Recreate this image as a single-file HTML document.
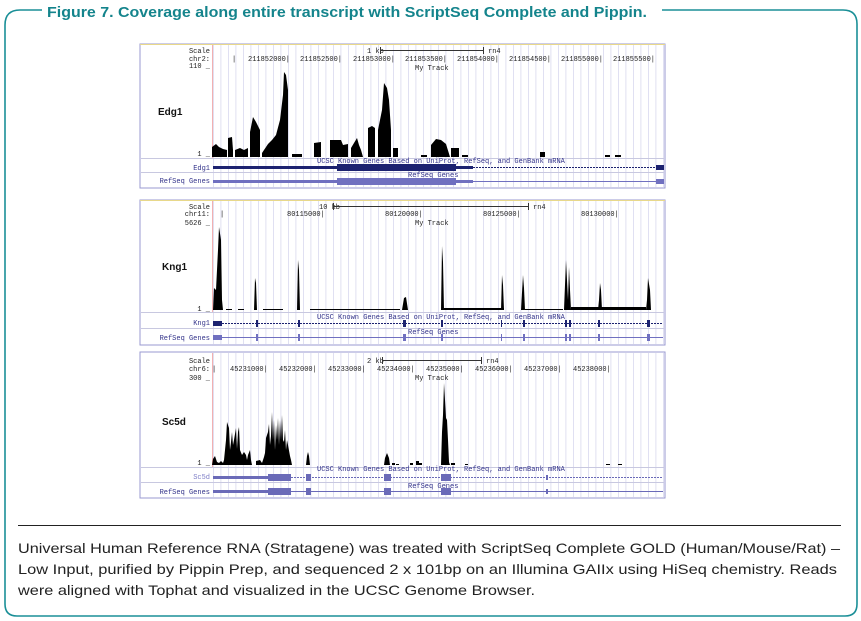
<!DOCTYPE html>
<html><head><meta charset="utf-8"><style>
html,body{margin:0;padding:0;background:#fff;}
svg{display:block;}
.m{font-family:"Liberation Mono",monospace;font-size:7px;fill:#222;}
.mb{font-family:"Liberation Mono",monospace;font-size:7px;fill:#33338a;}
.lab{font-family:"Liberation Sans",sans-serif;font-size:10px;font-weight:bold;fill:#111;}
.cap{font-family:"Liberation Sans",sans-serif;font-size:14px;fill:#222;}
</style></head><body>
<svg width="861" height="621" viewBox="0 0 861 621" xmlns="http://www.w3.org/2000/svg">
<defs>
<pattern id="g" x="213" y="0" width="7.5" height="10" patternUnits="userSpaceOnUse">
<rect x="0" y="0" width="0.8" height="10" fill="#d8d8ee"/></pattern>
</defs>
<!-- frame -->
<path d="M42,10 L20,10 Q5,10 5,25 L5,604 Q5,616 17,616 L845,616 Q857,616 857,604 L857,24 Q857,10 843,10 L662,10" fill="none" stroke="#1a8f97" stroke-width="1.6"/>
<text x="47" y="17" font-family="Liberation Sans,sans-serif" font-size="14.5" font-weight="bold" fill="#14848c" textLength="600" lengthAdjust="spacingAndGlyphs">Figure 7. Coverage along entire transcript with ScriptSeq Complete and Pippin.</text>

<!-- PANEL 1 -->
<g>
<rect x="140" y="44" width="525" height="144" fill="#fff" stroke="#9a9ad0" stroke-width="1"/>
<line x1="140" y1="44.5" x2="665" y2="44.5" stroke="#e8d88a"/>
<rect x="213" y="45" width="451" height="142" fill="url(#g)"/>
<line x1="212.5" y1="45" x2="212.5" y2="158" stroke="#f2b0b0"/>
<line x1="141" y1="158.5" x2="664" y2="158.5" stroke="#c8c8e0"/>
<line x1="141" y1="172.5" x2="664" y2="172.5" stroke="#c8c8e0"/>
<text class="m" x="210" y="53" text-anchor="end">Scale</text>
<text class="m" x="210" y="61" text-anchor="end">chr2:</text>
<text class="m" x="210" y="68" text-anchor="end">110 _</text>
<text class="m" x="210" y="156" text-anchor="end">1 _</text>
<text class="m" x="367" y="53">1 kb</text>
<line x1="380" y1="50.5" x2="483" y2="50.5" stroke="#333"/><line x1="380.5" y1="47" x2="380.5" y2="54" stroke="#333"/><line x1="483.5" y1="47" x2="483.5" y2="54" stroke="#333"/>
<text class="m" x="488" y="53">rn4</text>
<text class="m" x="232" y="61">|</text>
<text class="m" x="248" y="61">211852000|</text>
<text class="m" x="300" y="61">211852500|</text>
<text class="m" x="353" y="61">211853000|</text>
<text class="m" x="405" y="61">211853500|</text>
<text class="m" x="457" y="61">211854000|</text>
<text class="m" x="509" y="61">211854500|</text>
<text class="m" x="561" y="61">211855000|</text>
<text class="m" x="613" y="61">211855500|</text>
<text class="m" x="415" y="70">My Track</text>
<text class="lab" x="158" y="115">Edg1</text>
<g fill="#000">
<polygon points="212,157 212,147 216,144 219,147 223,149 227,150 227,157"/>
<polygon points="228,157 228,138 232,137 233,150 233,157"/>
<polygon points="235,157 235,150 240,148 244,150 248,148 248,157"/>
<polygon points="250,157 250,132 253,117 256,122 260,130 260,157"/>
<polygon points="262,157 262,153 268,144 272,140 276,135 280,120 283,95 284,72 286,75 288,90 288,157"/>
<polygon points="292,157 292,154 302,154 302,157"/>
<polygon points="314,157 314,143 321,142 321,157"/>
<polygon points="330,157 330,140 341,140 343,145 348,144 348,157"/>
<polygon points="351,157 351,148 357,138 359,145 361,150 363,157"/>
<polygon points="368,157 368,128 372,126 375,128 375,157"/>
<polygon points="378,157 378,130 382,110 384,83 387,88 389,100 391,130 391,157"/>
<polygon points="393,157 393,148 398,148 398,157"/>
<rect x="421" y="155" width="6" height="2"/>
<polygon points="431,157 431,145 436,139 441,140 446,144 450,157"/>
<polygon points="451,157 451,148 459,148 459,157"/>
<rect x="462" y="155" width="6" height="2"/>
<rect x="540" y="152" width="5" height="5"/>
<rect x="605" y="155" width="5" height="2"/><rect x="615" y="155" width="6" height="2"/>
</g>
<text class="mb" x="317" y="163">UCSC Known Genes Based on UniProt, RefSeq, and GenBank mRNA</text>
<text class="mb" x="210" y="170" text-anchor="end">Edg1</text>
<rect x="213" y="166" width="260" height="3" fill="#1c2270"/>
<rect x="337" y="164" width="119" height="7" fill="#1c2270"/>
<line x1="473" y1="167.5" x2="660" y2="167.5" stroke="#1c2270" stroke-dasharray="2,1"/>
<rect x="656" y="165" width="8" height="5" fill="#1c2270"/>
<text class="mb" x="210" y="183" text-anchor="end">RefSeq Genes</text>
<text class="mb" x="408" y="177">RefSeq Genes</text>
<rect x="213" y="180" width="260" height="3" fill="#7070c0"/>
<rect x="337" y="178" width="119" height="7" fill="#7070c0"/>
<line x1="473" y1="181.5" x2="660" y2="181.5" stroke="#7070c0"/>
<rect x="656" y="179" width="8" height="5" fill="#7070c0"/>
</g>

<!-- PANEL 2 -->
<g>
<rect x="140" y="200" width="525" height="145" fill="#fff" stroke="#9a9ad0"/>
<line x1="140" y1="200.5" x2="665" y2="200.5" stroke="#e8d88a"/>
<rect x="213" y="201" width="451" height="143" fill="url(#g)"/>
<line x1="212.5" y1="201" x2="212.5" y2="312" stroke="#f2b0b0"/>
<line x1="141" y1="312.5" x2="664" y2="312.5" stroke="#c8c8e0"/>
<line x1="141" y1="328.5" x2="664" y2="328.5" stroke="#c8c8e0"/>
<text class="m" x="210" y="209" text-anchor="end">Scale</text>
<text class="m" x="210" y="216" text-anchor="end">chr11:</text>
<text class="m" x="210" y="225" text-anchor="end">5626 _</text>
<text class="m" x="210" y="311" text-anchor="end">1 _</text>
<text class="m" x="319" y="209">10 kb</text>
<line x1="333" y1="206.5" x2="528" y2="206.5" stroke="#333"/><line x1="333.5" y1="203" x2="333.5" y2="210" stroke="#333"/><line x1="528.5" y1="203" x2="528.5" y2="210" stroke="#333"/>
<text class="m" x="533" y="209">rn4</text>
<text class="m" x="220" y="216">|</text>
<text class="m" x="287" y="216">80115000|</text>
<text class="m" x="385" y="216">80120000|</text>
<text class="m" x="483" y="216">80125000|</text>
<text class="m" x="581" y="216">80130000|</text>
<text class="m" x="415" y="225">My Track</text>
<text class="lab" x="162" y="270">Kng1</text>
<g fill="#000">
<polygon points="213,310 214,288 216,290 218,250 219,227 221,240 222,300 223,310"/>
<polygon points="254,310 255,278 256,283 257,310"/>
<polygon points="297,310 298,260 299,270 300,310"/>
<polygon points="402,310 404,298 406,297 408,310"/>
<polygon points="441,310 442,246 443,262 444,310"/>
<polygon points="501,310 502,275 503,285 504,310"/>
<polygon points="521,310 523,275 524,288 525,310"/>
<polygon points="564,310 566,260 567,280 568,300 569,267 570,290 571,310"/>
<polygon points="598,310 599,300 600,283 601,290 602,310"/>
<polygon points="646,310 647,300 648,278 650,290 651,310"/>
<rect x="444" y="308" width="60" height="2"/>
<rect x="571" y="307" width="75" height="3"/>
<rect x="226" y="309" width="6" height="1"/><rect x="238" y="309" width="6" height="1"/><rect x="263" y="309" width="20" height="1"/><rect x="310" y="309" width="90" height="1"/><rect x="525" y="309" width="38" height="1"/>
</g>
<text class="mb" x="317" y="319">UCSC Known Genes Based on UniProt, RefSeq, and GenBank mRNA</text>
<text class="mb" x="210" y="325" text-anchor="end">Kng1</text>
<line x1="213" y1="323.5" x2="663" y2="323.5" stroke="#1c2270" stroke-dasharray="2,1"/>
<g fill="#1c2270">
<rect x="213" y="321" width="9" height="5"/><rect x="256" y="320" width="2" height="7"/><rect x="298" y="320" width="2" height="7"/><rect x="403" y="320" width="3" height="7"/><rect x="441" y="320" width="2" height="7"/><rect x="501" y="320" width="1" height="7"/><rect x="523" y="320" width="2" height="7"/><rect x="565" y="320" width="2" height="7"/><rect x="569" y="320" width="2" height="7"/><rect x="598" y="320" width="2" height="7"/><rect x="647" y="320" width="3" height="7"/></g>
<text class="mb" x="210" y="340" text-anchor="end">RefSeq Genes</text>
<text class="mb" x="408" y="334">RefSeq Genes</text>
<line x1="213" y1="337.5" x2="663" y2="337.5" stroke="#7070c0"/>
<g fill="#7070c0">
<rect x="213" y="335" width="9" height="5"/><rect x="256" y="334" width="2" height="7"/><rect x="298" y="334" width="2" height="7"/><rect x="403" y="334" width="3" height="7"/><rect x="441" y="334" width="2" height="7"/><rect x="501" y="334" width="1" height="7"/><rect x="523" y="334" width="2" height="7"/><rect x="565" y="334" width="2" height="7"/><rect x="569" y="334" width="2" height="7"/><rect x="598" y="334" width="2" height="7"/><rect x="647" y="334" width="3" height="7"/></g>
</g>

<!-- PANEL 3 -->
<g>
<rect x="140" y="352" width="525" height="146" fill="#fff" stroke="#9a9ad0"/>
<rect x="213" y="353" width="451" height="144" fill="url(#g)"/>
<line x1="212.5" y1="353" x2="212.5" y2="467" stroke="#f2b0b0"/>
<line x1="141" y1="467.5" x2="664" y2="467.5" stroke="#c8c8e0"/>
<line x1="141" y1="482.5" x2="664" y2="482.5" stroke="#c8c8e0"/>
<text class="m" x="210" y="363" text-anchor="end">Scale</text>
<text class="m" x="210" y="371" text-anchor="end">chr6:</text>
<text class="m" x="210" y="380" text-anchor="end">300 _</text>
<text class="m" x="210" y="465" text-anchor="end">1 _</text>
<text class="m" x="367" y="363">2 kb</text>
<line x1="382" y1="360.5" x2="481" y2="360.5" stroke="#333"/><line x1="382.5" y1="357" x2="382.5" y2="364" stroke="#333"/><line x1="481.5" y1="357" x2="481.5" y2="364" stroke="#333"/>
<text class="m" x="486" y="363">rn4</text>
<text class="m" x="212" y="371">|</text>
<text class="m" x="230" y="371">45231000|</text>
<text class="m" x="279" y="371">45232000|</text>
<text class="m" x="328" y="371">45233000|</text>
<text class="m" x="377" y="371">45234000|</text>
<text class="m" x="426" y="371">45235000|</text>
<text class="m" x="475" y="371">45236000|</text>
<text class="m" x="524" y="371">45237000|</text>
<text class="m" x="573" y="371">45238000|</text>
<text class="m" x="415" y="380">My Track</text>
<text class="lab" x="162" y="425">Sc5d</text>
<g fill="#000">
<polygon points="212,465 213,459 215,456 217,462 219,463 221,461 223,463 224,460 226,440 227,422 229,428 230,450 231,442 232,432 233,445 234,440 236,428 237,449 238,432 239,427 240,450 242,455 244,452 246,455 247,460 248,455 250,450 251,460 252,465"/>
<polygon points="256,465 256,461 260,460 262,463 264,457 265,453 266,438 268,432 269,424 270,445 271,436 272,412 273,440 274,420 275,450 276,425 277,440 278,418 279,445 280,420 281,440 282,415 283,440 284,442 285,430 286,450 287,440 288,445 290,456 291,460 292,465"/>
<polygon points="306,465 307,456 308,452 309,456 310,465"/>
<polygon points="384,465 385,458 387,453 389,458 390,465"/>
<rect x="392" y="463" width="3" height="2"/><rect x="396" y="464" width="3" height="1"/>
<rect x="410" y="463" width="3" height="2"/><rect x="416" y="461" width="3" height="4"/><rect x="419" y="463" width="3" height="2"/>
<polygon points="441,465 442,432 443,415 444,383 445,400 446,418 447,420 448,440 449,462 450,465"/>
<rect x="451" y="463" width="4" height="2"/>
<rect x="465" y="464" width="3" height="1"/>
<rect x="606" y="464" width="4" height="1"/><rect x="618" y="464" width="4" height="1"/>
</g>
<text class="mb" x="317" y="471">UCSC Known Genes Based on UniProt, RefSeq, and GenBank mRNA</text>
<text class="mb" x="210" y="479" text-anchor="end" style="fill:#8080c8">Sc5d</text>
<line x1="213" y1="477.5" x2="663" y2="477.5" stroke="#6a6ab8" stroke-dasharray="2,1"/>
<g fill="#6a6ab8">
<rect x="213" y="476" width="55" height="3"/><rect x="268" y="474" width="23" height="7"/><rect x="306" y="474" width="5" height="7"/><rect x="384" y="474" width="7" height="7"/><rect x="441" y="474" width="10" height="7"/><rect x="546" y="475" width="2" height="5"/></g>
<text class="mb" x="210" y="494" text-anchor="end">RefSeq Genes</text>
<text class="mb" x="408" y="488">RefSeq Genes</text>
<line x1="213" y1="491.5" x2="663" y2="491.5" stroke="#6a6ab8"/>
<g fill="#6a6ab8">
<rect x="213" y="490" width="55" height="3"/><rect x="268" y="488" width="23" height="7"/><rect x="306" y="488" width="5" height="7"/><rect x="384" y="488" width="7" height="7"/><rect x="441" y="488" width="10" height="7"/><rect x="546" y="489" width="2" height="5"/></g>
</g>

<!-- caption -->
<line x1="18" y1="525.5" x2="841" y2="525.5" stroke="#222" stroke-width="1"/>
<text class="cap" x="18" y="553" textLength="822" lengthAdjust="spacingAndGlyphs">Universal Human Reference RNA (Stratagene) was treated with ScriptSeq Complete GOLD (Human/Mouse/Rat) –</text>
<text class="cap" x="18" y="574" textLength="819" lengthAdjust="spacingAndGlyphs">Low Input, purified by Pippin Prep, and sequenced 2 x 101bp on an Illumina GAIIx using HiSeq chemistry. Reads</text>
<text class="cap" x="18" y="595" textLength="517" lengthAdjust="spacingAndGlyphs">were aligned with Tophat and visualized in the UCSC Genome Browser.</text>
</svg>
</body></html>
